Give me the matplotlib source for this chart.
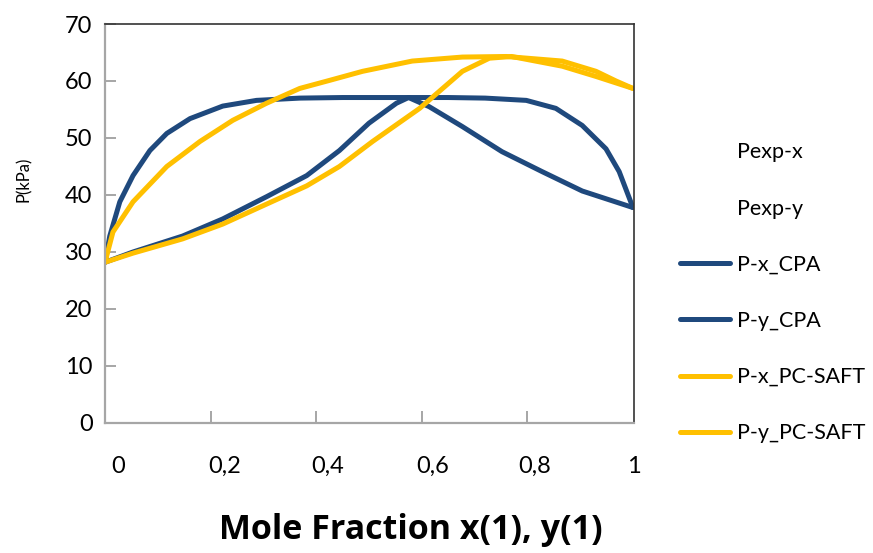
import matplotlib
matplotlib.use("Agg")
import matplotlib.pyplot as plt
from matplotlib.lines import Line2D

plt.rcParams['font.family'] = ['Lato', 'DejaVu Sans']

# P-x / P-y curves (kPa) versus mole fraction of component 1
x_px_cpa = [0, 0.009, 0.028, 0.053, 0.085, 0.117, 0.161, 0.223, 0.287, 0.369,
            0.45, 0.55, 0.65, 0.72, 0.798, 0.854, 0.904, 0.949, 0.974, 1.0]
p_px_cpa = [28.2, 32.8, 38.8, 43.4, 47.8, 50.8, 53.4, 55.6, 56.6, 57.0,
            57.1, 57.1, 57.1, 57.0, 56.6, 55.2, 52.2, 48.1, 44.1, 37.8]

y_py_cpa = [0, 0.053, 0.147, 0.223, 0.306, 0.382, 0.444, 0.5, 0.552, 0.575,
            0.614, 0.677, 0.752, 0.828, 0.904, 1.0]
p_py_cpa = [28.2, 30.0, 32.8, 35.8, 39.7, 43.4, 47.8, 52.6, 56.1, 57.1,
            55.5, 52.0, 47.6, 44.1, 40.7, 37.8]

x_px_saft = [0, 0.015, 0.053, 0.117, 0.18, 0.242, 0.306, 0.369, 0.425, 0.488,
             0.582, 0.677, 0.76, 0.866, 0.93, 0.968, 1.0]
p_px_saft = [28.2, 33.5, 38.8, 45.0, 49.4, 53.1, 56.1, 58.7, 60.1, 61.7,
             63.5, 64.2, 64.3, 63.5, 61.7, 60.0, 58.7]

y_py_saft = [0, 0.053, 0.147, 0.223, 0.306, 0.382, 0.444, 0.507, 0.596, 0.677,
             0.728, 0.77, 0.866, 0.93, 1.0]
p_py_saft = [28.2, 29.8, 32.3, 34.9, 38.4, 41.6, 45.0, 49.4, 55.2, 61.7,
             64.0, 64.3, 62.6, 60.8, 58.7]

series_labels = ["Pexp-x", "Pexp-y", "P-x_CPA", "P-y_CPA", "P-x_PC-SAFT", "P-y_PC-SAFT"]
x_tick_labels = ["0", "0,2", "0,4", "0,6", "0,8", "1"]
x_label_pos = [0.025, 0.227, 0.422, 0.620, 0.813, 1.002]
x_minor_ticks = [0.2, 0.4, 0.6, 0.8]
y_ticks = [0, 10, 20, 30, 40, 50, 60, 70]

BLUE = "#1F497D"
GOLD = "#FFC000"

fig = plt.figure(figsize=(8.73, 5.53), dpi=100)
ax = fig.add_axes([0.1203, 0.2351, 0.6059, 0.7215])

lw = 3.6
style = dict(lw=lw, solid_joinstyle="round", solid_capstyle="round")
h_exp_x = Line2D([], [], linestyle="none", marker="none")
h_exp_y = Line2D([], [], linestyle="none", marker="none")
h1, = ax.plot(x_px_cpa, p_px_cpa, color=BLUE, **style)
h2, = ax.plot(y_py_cpa, p_py_cpa, color=BLUE, **style)
h3, = ax.plot(x_px_saft, p_px_saft, color=GOLD, **style)
h4, = ax.plot(y_py_saft, p_py_saft, color=GOLD, **style)

ax.set_xlim(0, 1)
ax.set_ylim(0, 70)

for side in ("left", "bottom"):
    ax.spines[side].set_color("#A6A6A6")
    ax.spines[side].set_linewidth(1.6)
for side in ("top", "right"):
    ax.spines[side].set_color("#333333")
    ax.spines[side].set_linewidth(1.2)

ax.set_yticks(y_ticks)
ax.tick_params(axis="y", direction="in", length=8, width=1.4, color="#A6A6A6",
               labelsize=17, pad=9)

ax.set_xticks(x_label_pos)
ax.set_xticklabels(x_tick_labels)
ax.set_xticks(x_minor_ticks, minor=True)
ax.tick_params(axis="x", which="major", length=0, labelsize=17, pad=24)
ax.tick_params(axis="x", which="minor", direction="in", length=9, width=1.4, color="#A6A6A6")

fig.text(0.471, 0.042, "Mole Fraction x(1), y(1)", fontsize=24.5, fontweight="bold",
         family=["Open Sans", "DejaVu Sans"], ha="center", va="center")
fig.text(0.0275, 0.676, "P(kPa)", fontsize=12, rotation=90, ha="center", va="center")

leg = fig.legend([h_exp_x, h_exp_y, h1, h2, h3, h4], series_labels,
                 loc="upper left", bbox_to_anchor=(0.779, 0.7425), frameon=False,
                 fontsize=15.5, handlelength=2.3, handletextpad=0.35, labelspacing=1.68,
                 borderaxespad=0, borderpad=0)

fig.savefig("out.png", dpi=100)
